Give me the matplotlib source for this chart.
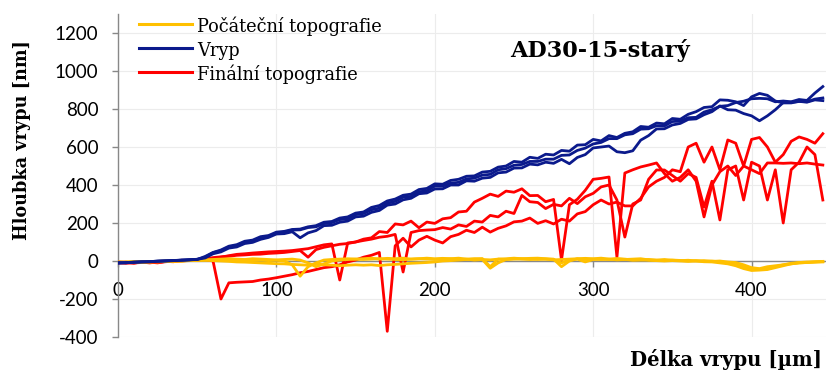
import matplotlib
matplotlib.use("Agg")
import matplotlib.pyplot as plt
from matplotlib.lines import Line2D

# ---------------- data ----------------
x_um = list(range(0, 450, 5))  # 0 .. 445

blue_1 = [-10, -8, -6, -5, -4, -2, 0, 2, 4, 6, 8,
          24, 45, 58, 78, 86, 104, 110, 128, 134, 152,
          156, 166, 168, 180, 186, 204, 208, 226, 232, 252,
          258, 282, 292, 316, 326, 346, 352, 376, 382, 406,
          404, 424, 430, 446, 448, 468, 472, 494, 500, 524,
          520, 546, 540, 562, 558, 582, 578, 610, 612, 640,
          632, 660, 650, 672, 680, 708, 704, 726, 722, 750,
          746, 772, 786, 808, 812, 848, 846, 838, 818, 864,
          882, 872, 842, 832, 832, 840, 838, 852, 858]
blue_2 = [-12, -9, -7, -5, -3, -1, 1, 2, 5, 6, 9,
          16, 38, 48, 68, 74, 92, 98, 114, 124, 142,
          144, 154, 122, 148, 160, 186, 188, 204, 210, 232,
          236, 256, 266, 294, 300, 322, 330, 354, 358, 379,
          380, 400, 400, 422, 420, 436, 440, 464, 468, 489,
          490, 510, 506, 520, 514, 535, 512, 545, 560, 595,
          600, 605, 575, 570, 580, 636, 660, 695, 696, 716,
          724, 745, 748, 770, 786, 816, 796, 794, 776, 764,
          738, 764, 796, 834, 836, 840, 836, 848, 844]
blue_3 = [-8, -10, -6, -4, -4, 0, 1, 3, 4, 7, 9,
          20, 44, 54, 74, 82, 98, 104, 122, 130, 148,
          152, 163, 164, 176, 180, 197, 202, 218, 222, 244,
          250, 270, 278, 304, 314, 336, 340, 364, 370, 394,
          394, 410, 414, 432, 436, 452, 456, 480, 486, 504,
          508, 524, 524, 536, 536, 556, 558, 582, 594, 616,
          624, 644, 644, 664, 670, 694, 696, 712, 711, 734,
          736, 754, 756, 784, 796, 814, 818, 834, 841, 854,
          856, 854, 838, 842, 838, 850, 845, 884, 918]

red_1 = [-10, -12, -8, -6, -10, -5, -4, 0, 2, 4, 6,
         8, 0, -200, -115, -112, -110, -108, -100, -95, -88,
         -80, -72, -62, -55, -45, -35, -30, -20, -5, 5,
         20, 30, 45, -370, 80, 120, 74, 110, 130, 110,
         95, 128, 140, 162, 150, 178, 152, 172, 185, 206,
         210, 226, 198, 212, 195, 220, 210, 248, 260, 296,
         321, 300, 310, 290, 290, 330, 390, 420, 440, 480,
         470, 600, 620, 520, 600, 480, 637, 620, 500, 640,
         650, 600, 520, 560, 630, 653, 640, 620, 670]
red_2 = [-5, -8, -12, -4, -6, -10, -2, -4, 4, 2, 8,
         10, 18, 22, 25, 30, 32, 35, 36, 40, 42,
         45, 50, 55, 20, 60, 72, 80, 88, 92, 100,
         108, 115, 125, 130, 140, -58, 150, 160, 163, 165,
         176, 168, 190, 182, 210, 205, 240, 232, 262, 250,
         345, 312, 308, 276, 298, 290, 330, 302, 338, 356,
         390, 400, 321, 126, 300, 321, 430, 479, 479, 450,
         420, 460, 440, 284, 420, 216, 480, 500, 321, 520,
         500, 321, 480, 200, 480, 520, 600, 560, 321]
red_3 = [-8, -6, -10, -8, -5, -8, -3, -2, 0, 3, 5,
         8, 12, 20, 28, 35, 38, 42, 45, 48, 50,
         52, 55, 60, 65, 75, 85, 90, -100, 95, 100,
         115, 122, 155, 150, 195, 190, 210, 175, 205, 198,
         222, 228, 258, 262, 310, 330, 352, 340, 368, 362,
         380, 344, 345, 312, 324, 5, 296, 325, 372, 430,
         435, 442, 20, 463, 480, 495, 505, 516, 460, 420,
         440, 480, 420, 232, 400, 470, 500, 450, 500, 480,
         460, 516, 516, 514, 516, 512, 516, 510, 505]

yellow_1 = [-5, -8, -6, -4, -6, -2, 0, -2, 2, 3, 5,
            6, 5, 8, 5, 4, 6, 3, 5, 2, 4,
            0, -20, -80, -30, -10, 5, 8, 10, 12, 10,
            12, 15, 10, 14, 12, 15, 10, 12, 15, 12,
            14, 12, 15, 10, 12, 13, -30, 10, 12, 15,
            12, 14, 15, 12, 10, -30, 0, 12, 14, 12,
            15, 10, 12, 8, 10, 12, 6, 5, 8, 4,
            2, 4, 0, 2, -2, 0, -5, -8, -20, -35,
            -40, -30, -25, -20, -15, -10, -8, -5, -3]
yellow_2 = [-8, -5, -4, -8, -3, -5, -2, 0, -1, 2, 4,
            4, 2, 0, -2, -5, -6, -8, -10, -12, -14,
            -15, -18, -20, -22, -15, -20, -22, -25, -22, -20,
            -22, -20, -24, -20, -18, -15, -12, -10, -8, -5,
            0, 2, 5, 8, 10, 8, 6, 10, 8, 12,
            10, 8, 12, 10, 6, 8, 10, 12, 8, 10,
            8, 10, 6, 8, 5, 6, 4, 2, 0, 2,
            0, -2, 0, -4, -5, -10, -15, -25, -40, -50,
            -48, -45, -35, -25, -15, -10, -8, -6, -5]
yellow_3 = [-6, -7, -3, -5, -4, -2, -3, 1, 0, 4, 3,
            5, 8, 10, 12, 10, 8, 12, 10, 8, 6,
            8, 10, 5, -10, -30, -15, 0, 5, 8, 10,
            8, 10, 12, 10, 8, 6, 10, 12, 10, 8,
            10, 12, 8, 10, 5, 8, -38, -10, 8, 10,
            12, 10, 8, 10, 8, -10, 5, 10, -5, 8,
            10, 8, 12, 10, 5, 6, 8, 4, 2, 5,
            3, 0, 2, -2, 0, -5, -10, -20, -30, -40,
            -45, -40, -30, -20, -12, -8, -5, -4, -2]

legend_labels = ["Počáteční topografie", "Vryp", "Finální topografie"]
x_ticks = [0, 100, 200, 300, 400]
y_ticks = [-400, -200, 0, 200, 400, 600, 800, 1000, 1200]
title = "AD30-15-starý"
x_label = "Délka vrypu [µm]"
y_label = "Hloubka vrypu [nm]"

c_yellow = "#FFC000"
c_blue = "#0B1A8C"
c_red = "#FF0000"

# ---------------- figure ----------------
W, H = 826, 374
fig = plt.figure(figsize=(W / 100, H / 100), dpi=100)
ax = fig.add_axes([118 / W, 37 / H, (W - 118) / W, (337 - 14) / H])
ax.set_xlim(0, 447)
ax.set_ylim(-400, 1300)

lw = 2.0
for rv in [red_1, red_2, red_3]:
    ax.plot(x_um, rv, color=c_red, lw=lw, solid_joinstyle="round", zorder=3)
for yv in [yellow_1, yellow_2, yellow_3]:
    ax.plot(x_um, yv, color=c_yellow, lw=lw, solid_joinstyle="round", zorder=4)
for bv in [blue_1, blue_2, blue_3]:
    ax.plot(x_um, bv, color=c_blue, lw=lw, solid_joinstyle="round", zorder=5)

spine_c = "#888888"
for s in ["top", "right"]:
    ax.spines[s].set_visible(False)
ax.spines["bottom"].set_position(("data", 0))
ax.spines["bottom"].set_color(spine_c)
ax.spines["left"].set_color(spine_c)
ax.spines["bottom"].set_linewidth(1.0)
ax.spines["left"].set_linewidth(1.0)
ax.spines["bottom"].set_zorder(2)

ax.set_xticks(x_ticks)
ax.set_yticks(y_ticks)
ax.set_xticklabels([str(v) for v in x_ticks])
ax.set_yticklabels([str(v) for v in y_ticks])
ax.tick_params(axis="both", direction="out", length=4, width=1.0, color=spine_c,
               labelsize=13.5, labelcolor="#000000")
ax.tick_params(axis="x", pad=11)
ax.tick_params(axis="y", pad=10)
for lab in ax.get_xticklabels() + ax.get_yticklabels():
    lab.set_fontfamily("Lato")

ax.grid(True, color="#ececec", lw=0.8, zorder=0)
ax.set_axisbelow(True)

# texts
serif = ["DejaVu Serif"]
t_title = fig.text(600 / W, 1 - 50 / H, title, ha="center", va="center",
                   fontsize=15, fontweight="bold", family=serif)
t_xl = fig.text(822 / W, 1 - 366 / H, x_label, ha="right", va="baseline",
                fontsize=15, fontweight="bold", family=serif)
t_yl = fig.text(22 / W, 1 - 140 / H, y_label, ha="center", va="center", rotation=90,
                fontsize=15, fontweight="bold", family=serif)

# legend (manual)
leg_rows = [24, 48, 72]
leg_cols = [c_yellow, c_blue, c_red]
leg_texts = []
for lab, yr, col in zip(legend_labels, leg_rows, leg_cols):
    fig.add_artist(Line2D([139 / W, 192 / W], [1 - yr / H, 1 - yr / H], color=col, lw=2.2,
                          transform=fig.transFigure))
    leg_texts.append(fig.text(197 / W, 1 - (yr + 8) / H, lab, ha="left", va="baseline",
                              fontsize=13, family=serif))

fig.canvas.draw()
r = fig.canvas.get_renderer()


def fit(t, target):
    bb = t.get_window_extent(r)
    size = max(bb.width, bb.height) if t.get_rotation() else bb.width
    t.set_fontsize(t.get_fontsize() * target / size)


fit(t_title, 180)
fit(t_xl, 192)
fit(t_yl, 200)
fit(leg_texts[0], 186)
for t in leg_texts[1:]:
    t.set_fontsize(leg_texts[0].get_fontsize())

fig.savefig("out.png", dpi=100)
